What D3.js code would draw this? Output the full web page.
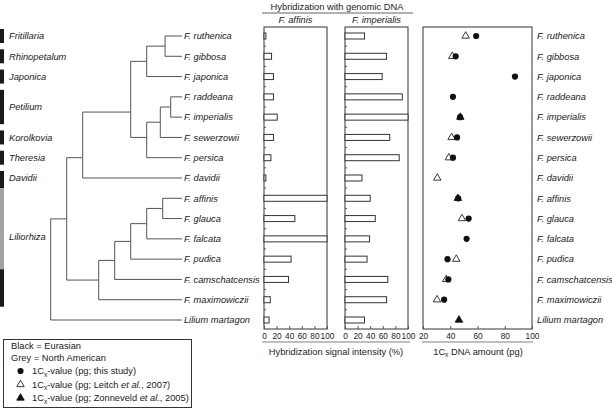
<!DOCTYPE html>
<html>
<head>
<meta charset="utf-8">
<script src="https://cdn.jsdelivr.net/npm/d3@7"></script>
<style>
  body { margin: 0; background: #fff; }
  svg { font-family: "Liberation Sans", Arial, sans-serif; }
</style>
</head>
<body>
<svg id="chart" width="612" height="409"></svg>
<script>
// taxa, top to bottom
var taxa = ["F. ruthenica", "F. gibbosa", "F. japonica", "F. raddeana", "F. imperialis",
  "F. sewerzowii", "F. persica", "F. davidii", "F. affinis", "F. glauca", "F. falcata",
  "F. pudica", "F. camschatcensis", "F. maximowiczii", "Lilium martagon"];

// hybridization signal intensity (%)
var affinisSignal    = [3, 12, 15, 15, 21, 15, 11, 3, 100, 49, 100, 43, 39, 10, 8];
var imperialisSignal = [31, 66, 59, 91, 100, 71, 86, 27, 40, 48, 39, 35, 68, 66, 31];

// 1Cx DNA amount (pg)
var cxThisStudy = [59, 44, 87.5, 42, 47.2, 45, 42, null, 45.8, 53.5, 52, 38, 38.6, 35.5, null];
var cxLeitch    = [51.3, 41.5, null, null, null, 41, 39, 30.5, null, 48.6, null, 44.4, 37, 30.3, null];
var cxZonneveld = [null, null, null, null, 47.4, null, null, null, 45.6, null, null, null, null, null, 46.4];

var signalTicks = [0, 20, 40, 60, 80, 100];
var amountTicks = [20, 40, 60, 80, 100];

// sections (rows covered) and the region colour blocks
var sections = [
  {name: "Fritillaria", first: 0, last: 0},
  {name: "Rhinopetalum", first: 1, last: 1},
  {name: "Japonica", first: 2, last: 2},
  {name: "Petilium", first: 3, last: 4},
  {name: "Korolkovia", first: 5, last: 5},
  {name: "Theresia", first: 6, last: 6},
  {name: "Davidii", first: 7, last: 7},
  {name: "Liliorhiza", first: 8, last: 13, labelRow: 9.9}
];
var regionBlocks = [
  {first: 0, last: 0, region: "Eurasian"},
  {first: 1, last: 1, region: "Eurasian"},
  {first: 2, last: 2, region: "Eurasian"},
  {first: 3, last: 4, region: "Eurasian"},
  {first: 5, last: 5, region: "Eurasian"},
  {first: 6, last: 6, region: "Eurasian"},
  {first: 7, last: 7, region: "Eurasian"},
  {first: 8, last: 11, region: "North American"},
  {first: 12, last: 13, region: "Eurasian"}
];

// cladogram: depth = node level, row = where the branch joins (if not centred)
var tree = {depth: 0, children: [
  {depth: 1, children: [
    {depth: 2, row: 6, children: [
      {depth: 5, row: 3.75, children: [
        {depth: 6, children: [
          {depth: 7.15, children: [{name: "F. ruthenica"}, {name: "F. gibbosa"}]},
          {name: "F. japonica"}]},
        {depth: 6, row: 5, children: [
          {depth: 6.85, children: [
            {depth: 7.5, children: [{name: "F. raddeana"}, {name: "F. imperialis"}]},
            {name: "F. sewerzowii"}]},
          {name: "F. persica"}]}
      ]},
      {name: "F. davidii"}
    ]},
    {depth: 3, children: [
      {depth: 4, children: [
        {depth: 5, children: [
          {depth: 6, children: [
            {depth: 7, children: [{name: "F. affinis"}, {name: "F. glauca"}]},
            {name: "F. falcata"}]},
          {name: "F. pudica"}]},
        {name: "F. camschatcensis"}]},
      {name: "F. maximowiczii"}]}
  ]},
  {name: "Lilium martagon"}
]};
var leafDepth = 8.2;

var svg = d3.select("#chart");
var ink = "#333";
var fs = "9.3px";

var y = d3.scalePoint().domain(taxa).range([36, 320]);
var rowY = d3.scaleLinear().domain([0, taxa.length - 1]).range([y(taxa[0]), y(taxa[taxa.length - 1])]);
var panelTop = 27, panelBottom = 329;

// ---- region blocks and section names
var blockColor = {"Eurasian": "#1a1a1a", "North American": "#a3a3a3"};
regionBlocks.forEach(function(b, i) {
  var prev = regionBlocks[i - 1], next = regionBlocks[i + 1];
  var top = (prev && prev.last === b.first - 1 && prev.region !== b.region)
    ? (y(taxa[b.first]) + y(taxa[prev.last])) / 2 : y(taxa[b.first]) - 7;
  var bot = (next && next.first === b.last + 1 && next.region !== b.region)
    ? (y(taxa[b.last]) + y(taxa[next.first])) / 2 : y(taxa[b.last]) + 7;
  svg.append("rect").attr("x", 0).attr("y", top).attr("width", 4).attr("height", bot - top)
    .attr("fill", blockColor[b.region]);
});
svg.selectAll("text.section").data(sections).enter().append("text")
  .attr("class", "section")
  .attr("x", 9)
  .attr("y", function(d) { return rowY(d.labelRow != null ? d.labelRow : (d.first + d.last) / 2); })
  .attr("dy", "0.35em")
  .style("font-size", fs).style("font-style", "italic").attr("fill", "#222")
  .text(function(d) { return d.name; });

// ---- cladogram
var xTree = d3.scaleLinear().domain([0, 8]).range([50.7, 178.7]);
var root = d3.hierarchy(tree);
root.eachAfter(function(n) {
  if (!n.children) { n.py = y(n.data.name); n.px = xTree(leafDepth); return; }
  n.px = xTree(n.data.depth);
  n.py = n.data.row != null ? rowY(n.data.row)
    : d3.mean([n.children[0].py, n.children[n.children.length - 1].py]);
});
var gTree = svg.append("g").attr("stroke", "#555").attr("stroke-width", 1).attr("fill", "none");
root.descendants().forEach(function(n) {
  if (n.children) {
    var ys = n.children.map(function(c) { return c.py; });
    gTree.append("line").attr("x1", n.px).attr("x2", n.px)
      .attr("y1", d3.min(ys)).attr("y2", d3.max(ys));
  }
  if (n.parent) {
    gTree.append("line").attr("x1", n.parent.px).attr("x2", n.px)
      .attr("y1", n.py).attr("y2", n.py);
  }
});
svg.selectAll("text.leaf").data(taxa).enter().append("text")
  .attr("class", "leaf")
  .attr("x", xTree(leafDepth) + 2).attr("y", function(d) { return y(d); })
  .attr("dy", "0.35em")
  .style("font-size", fs).style("font-style", "italic").attr("fill", "#222")
  .text(function(d) { return d; });

// ---- hybridization panels
function barPanel(values, x0, x1, title) {
  var x = d3.scaleLinear().domain([0, 100]).range([x0, x1]);
  var g = svg.append("g");
  g.append("rect").attr("x", x0).attr("y", panelTop).attr("width", x1 - x0)
    .attr("height", panelBottom - panelTop).attr("fill", "none").attr("stroke", ink);
  // category ticks between rows
  taxa.slice(1).forEach(function(t, i) {
    var ty = (y(taxa[i]) + y(t)) / 2;
    g.append("line").attr("x1", x0).attr("x2", x0 + 2).attr("y1", ty).attr("y2", ty)
      .attr("stroke", "#555");
  });
  g.selectAll("rect.bar").data(values).enter().append("rect")
    .attr("class", "bar")
    .attr("x", x(0))
    .attr("y", function(d, i) { return y(taxa[i]) - 3; })
    .attr("width", function(d) { return x(d) - x(0); })
    .attr("height", 6)
    .attr("fill", "#fff").attr("stroke", ink).attr("stroke-width", 1);
  var ax = g.append("g").attr("transform", "translate(0," + panelBottom + ")")
    .call(d3.axisBottom(x).tickValues(signalTicks).tickSizeInner(-3).tickSizeOuter(0).tickPadding(4));
  ax.select(".domain").remove();
  ax.selectAll("line").attr("stroke", "#555");
  ax.selectAll("text").style("font-size", "8.3px").attr("fill", "#222")
    .style("font-family", "Liberation Sans, Arial, sans-serif");
  g.append("text").attr("x", (x0 + x1) / 2).attr("y", 23)
    .attr("text-anchor", "middle").style("font-size", fs).style("font-style", "italic")
    .attr("fill", "#222").text(title);
}
barPanel(affinisSignal, 264, 327, "F. affinis");
barPanel(imperialisSignal, 345, 408, "F. imperialis");

svg.append("text").attr("x", 337).attr("y", 9.5).attr("text-anchor", "middle")
  .style("font-size", fs).attr("fill", "#222").text("Hybridization with genomic DNA");
svg.append("line").attr("x1", 262).attr("x2", 413).attr("y1", 13).attr("y2", 13)
  .attr("stroke", "#999").attr("stroke-width", 1.5);
svg.append("line").attr("x1", 262).attr("x2", 410).attr("y1", 342).attr("y2", 342)
  .attr("stroke", "#aaa").attr("stroke-width", 1.5);
svg.append("text").attr("x", 336).attr("y", 354.5).attr("text-anchor", "middle")
  .style("font-size", fs).attr("fill", "#222").text("Hybridization signal intensity (%)");

// ---- DNA amount panel
var xc = d3.scaleLinear().domain([20, 100]).range([423, 532]);
var gc = svg.append("g");
gc.append("rect").attr("x", 423).attr("y", panelTop).attr("width", 532 - 423)
  .attr("height", panelBottom - panelTop).attr("fill", "none").attr("stroke", ink);
var axc = gc.append("g").attr("transform", "translate(0," + panelBottom + ")")
  .call(d3.axisBottom(xc).tickValues(amountTicks).tickSizeInner(-3).tickSizeOuter(0).tickPadding(4));
axc.select(".domain").remove();
axc.selectAll("line").attr("stroke", "#555");
axc.selectAll("text").style("font-size", "8.3px").attr("fill", "#222")
  .style("font-family", "Liberation Sans, Arial, sans-serif");

var tri = d3.symbol().type(d3.symbolTriangle).size(24);
var circ = d3.symbol().type(d3.symbolCircle).size(30);
function points(values, sym, fill, stroke) {
  gc.selectAll(null).data(values.map(function(v, i) { return {v: v, t: taxa[i]}; })
      .filter(function(d) { return d.v != null; }))
    .enter().append("path")
    .attr("d", sym)
    .attr("transform", function(d) { return "translate(" + xc(d.v) + "," + y(d.t) + ")"; })
    .attr("fill", fill).attr("stroke", stroke).attr("stroke-width", 0.9);
}
points(cxLeitch, tri, "#fff", "#222");
points(cxThisStudy, circ, "#111", "none");
points(cxZonneveld, tri, "#111", "#111");

svg.selectAll("text.leafR").data(taxa).enter().append("text")
  .attr("class", "leafR")
  .attr("x", 537).attr("y", function(d) { return y(d); })
  .attr("dy", "0.35em")
  .style("font-size", fs).style("font-style", "italic").attr("fill", "#222")
  .text(function(d) { return d; });

svg.append("line").attr("x1", 422).attr("x2", 533).attr("y1", 342).attr("y2", 342)
  .attr("stroke", "#aaa").attr("stroke-width", 1.5);
var t3 = svg.append("text").attr("x", 478).attr("y", 354.5).attr("text-anchor", "middle")
  .style("font-size", fs).attr("fill", "#222");
t3.append("tspan").text("1C");
t3.append("tspan").attr("dy", 2.5).style("font-size", "6.5px").text("x");
t3.append("tspan").attr("dy", -2.5).text(" DNA amount (pg)");

// ---- legend
var lg = svg.append("g");
lg.append("rect").attr("x", 3.5).attr("y", 339.5).attr("width", 188).attr("height", 68)
  .attr("fill", "#fff").attr("stroke", ink);
lg.append("text").attr("x", 11).attr("y", 349).style("font-size", fs).attr("fill", "#222")
  .text("Black = Eurasian");
lg.append("text").attr("x", 11).attr("y", 360.5).style("font-size", fs).attr("fill", "#222")
  .text("Grey = North American");
var legendRows = [
  {sym: circ, fill: "#111", stroke: "none", pre: "-value (pg; this study)", it: "", post: ""},
  {sym: tri, fill: "#fff", stroke: "#222", pre: "-value (pg; Leitch ", it: "et al.", post: ", 2007)"},
  {sym: tri, fill: "#111", stroke: "#111", pre: "-value (pg; Zonneveld ", it: "et al.", post: ", 2005)"}
];
legendRows.forEach(function(r, i) {
  var cy = 371 + i * 13.5;
  lg.append("path").attr("d", r.sym).attr("transform", "translate(20.5," + cy + ")")
    .attr("fill", r.fill).attr("stroke", r.stroke).attr("stroke-width", 0.9);
  var t = lg.append("text").attr("x", 32).attr("y", cy + 3.3).style("font-size", fs).attr("fill", "#222");
  t.append("tspan").text("1C");
  t.append("tspan").attr("dy", 2.5).style("font-size", "6.5px").text("x");
  t.append("tspan").attr("dy", -2.5).text(r.pre);
  if (r.it) t.append("tspan").style("font-style", "italic").text(r.it);
  if (r.post) t.append("tspan").text(r.post);
});
</script>
</body>
</html>
